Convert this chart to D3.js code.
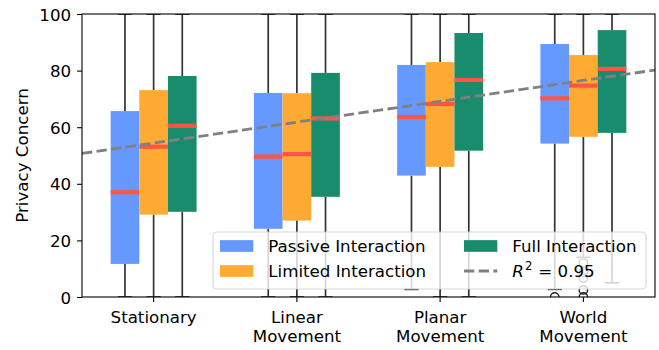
<!DOCTYPE html>
<html>
<head>
<meta charset="utf-8">
<script src="https://cdn.jsdelivr.net/npm/d3@7"></script>
<style>
  html, body { margin: 0; padding: 0; background: #fff; }
  svg { display: block; font-family: "DejaVu Sans", sans-serif; }
</style>
</head>
<body>
<svg id="chart" width="659" height="350"></svg>
<script>
// ---- data ----
const categories = ["Stationary", "Linear\nMovement", "Planar\nMovement", "World\nMovement"];
const seriesNames = ["Passive Interaction", "Limited Interaction", "Full Interaction"];
const yTicks = [0, 20, 40, 60, 80, 100];

const passiveQ1  = [11.7, 24.1, 42.9, 54.2];
const passiveMed = [37.0, 49.6, 63.6, 70.2];
const passiveQ3  = [65.7, 72.1, 82.0, 89.4];
const passiveLo  = [0, 0, 2.7, 2.7];
const passiveHi  = [100, 100, 100, 100];
const passiveOut = [[], [], [], [0]];

const limitedQ1  = [29.1, 27.0, 46.0, 56.6];
const limitedMed = [53.1, 50.5, 68.2, 74.7];
const limitedQ3  = [73.1, 72.0, 83.0, 85.5];
const limitedLo  = [0, 0, 0, 14];
const limitedHi  = [100, 100, 100, 100];
const limitedOut = [[], [], [], [12, 8.8, 6.7, 2.5, 0]];

const fullQ1  = [30.1, 35.4, 51.7, 58.0];
const fullMed = [60.5, 63.1, 76.7, 80.6];
const fullQ3  = [78.1, 79.2, 93.3, 94.3];
const fullLo  = [0, 0, 0, 5];
const fullHi  = [100, 100, 100, 100];
const fullOut = [[], [], [], []];

const trendIntercept = 54.4;   // value at first category
const trendSlope = 7.37;       // per category step
const r2Value = 0.95;

// ---- styles ----
const colors = ["#6699ff", "#ffaa33", "#1a8c6e"];
const medianColor = "#ff5545";
const whiskerColor = "#333333";

const series = [
  {name: seriesNames[0], q1: passiveQ1, med: passiveMed, q3: passiveQ3, lo: passiveLo, hi: passiveHi, out: passiveOut},
  {name: seriesNames[1], q1: limitedQ1, med: limitedMed, q3: limitedQ3, lo: limitedLo, hi: limitedHi, out: limitedOut},
  {name: seriesNames[2], q1: fullQ1, med: fullMed, q3: fullQ3, lo: fullLo, hi: fullHi, out: fullOut}
];

const svg = d3.select("#chart");
const m = {left: 82, right: 4, top: 14, bottom: 53};
const W = 659, H = 350;
const pw = W - m.left - m.right, ph = H - m.top - m.bottom;

const x = d3.scaleBand().domain(categories).range([m.left, m.left + pw]).padding(0);
const y = d3.scaleLinear().domain([0, 100]).range([m.top + ph, m.top]);
const bw = x.bandwidth();
const boxW = bw * 0.2;
const offsets = [-1, 0, 1];

svg.append("defs").append("clipPath").attr("id", "plotclip")
  .append("rect").attr("x", m.left).attr("y", m.top).attr("width", pw).attr("height", ph);

const plot = svg.append("g").attr("clip-path", "url(#plotclip)");

// whiskers + caps + outliers
series.forEach((s, si) => {
  const g = plot.append("g");
  categories.forEach((c, ci) => {
    const cx = x(c) + bw / 2 + offsets[si] * boxW;
    g.append("line").attr("x1", cx).attr("x2", cx).attr("y1", y(s.q3[ci])).attr("y2", y(s.hi[ci]))
      .attr("stroke", whiskerColor).attr("stroke-width", 1.7);
    g.append("line").attr("x1", cx).attr("x2", cx).attr("y1", y(s.q1[ci])).attr("y2", y(s.lo[ci]))
      .attr("stroke", whiskerColor).attr("stroke-width", 1.7);
    [s.hi[ci], s.lo[ci]].forEach(v => {
      g.append("line").attr("x1", cx - boxW / 4).attr("x2", cx + boxW / 4).attr("y1", y(v)).attr("y2", y(v))
        .attr("stroke", whiskerColor).attr("stroke-width", 1.7);
    });
    s.out[ci].forEach(v => {
      g.append("circle").attr("cx", cx).attr("cy", y(v)).attr("r", 4.2)
        .attr("fill", "none").attr("stroke", "#222").attr("stroke-width", 1.4);
    });
  });
});

// boxes
series.forEach((s, si) => {
  const g = plot.append("g");
  categories.forEach((c, ci) => {
    const cx = x(c) + bw / 2 + offsets[si] * boxW;
    g.append("rect").attr("x", cx - boxW / 2).attr("width", boxW)
      .attr("y", y(s.q3[ci])).attr("height", y(s.q1[ci]) - y(s.q3[ci]))
      .attr("fill", colors[si]);
  });
});
// medians
series.forEach((s, si) => {
  const g = plot.append("g");
  categories.forEach((c, ci) => {
    const cx = x(c) + bw / 2 + offsets[si] * boxW;
    g.append("line").attr("x1", cx - boxW / 2).attr("x2", cx + boxW / 2)
      .attr("y1", y(s.med[ci])).attr("y2", y(s.med[ci]))
      .attr("stroke", medianColor).attr("stroke-width", 4.2);
  });
});

// trend line (regression over category index)
const xi = d3.scaleLinear().domain([-0.5, categories.length - 0.5]).range([m.left, m.left + pw]);
const tx = [-0.5, categories.length - 0.5];
plot.append("path")
  .attr("d", d3.line().x(d => xi(d)).y(d => y(trendIntercept + trendSlope * d))(tx))
  .attr("fill", "none").attr("stroke", "#808080").attr("stroke-width", 2.8)
  .attr("stroke-dasharray", "10.3,4.4");

// axes
const yAxis = d3.axisLeft(y).tickValues(yTicks).tickSize(4.9).tickPadding(6);
const gy = svg.append("g").attr("transform", `translate(${m.left},0)`).call(yAxis);
gy.select(".domain").remove();
gy.selectAll(".tick line").attr("stroke", "#000").attr("stroke-width", 1.1);
gy.selectAll(".tick text").attr("font-size", "16.67px").attr("fill", "#000")
  .attr("font-family", "DejaVu Sans").attr("dy", null).attr("y", 6);

const xAxis = d3.axisBottom(x).tickSize(4.9).tickPadding(5).tickFormat("");
const gx = svg.append("g").attr("transform", `translate(0,${m.top + ph})`).call(xAxis);
gx.select(".domain").remove();
gx.selectAll(".tick line").attr("stroke", "#000").attr("stroke-width", 1.1);
gx.selectAll(".tick").each(function(d) {
  const lines = d.split("\n");
  const t = d3.select(this).append("text").attr("fill", "#000").attr("font-size", "16.67px")
    .attr("font-family", "DejaVu Sans").attr("text-anchor", "middle");
  lines.forEach((ln, i) => {
    t.append("tspan").attr("x", 0).attr("y", 26 + i * 18.6).text(ln);
  });
});

// spines
svg.append("rect").attr("x", m.left).attr("y", m.top).attr("width", pw).attr("height", ph)
  .attr("fill", "none").attr("stroke", "#000").attr("stroke-width", 1.1);

// y label
svg.append("text").attr("transform", `translate(28,${m.top + ph / 2}) rotate(-90)`)
  .attr("text-anchor", "middle").attr("font-size", "16.67px").attr("fill", "#000")
  .text("Privacy Concern");

// legend
const leg = svg.append("g");
leg.append("rect").attr("x", 213).attr("y", 232).attr("width", 433).attr("height", 57)
  .attr("rx", 4).attr("fill", "#fff").attr("fill-opacity", 0.8)
  .attr("stroke", "#cccccc").attr("stroke-width", 1.1).attr("stroke-opacity", 0.8);
const legItems = [
  {type: "patch", color: colors[0], label: seriesNames[0], col: 0, row: 0},
  {type: "patch", color: colors[1], label: seriesNames[1], col: 0, row: 1},
  {type: "patch", color: colors[2], label: seriesNames[2], col: 1, row: 0},
  {type: "line", label: null, col: 1, row: 1}
];
const colX = [220, 464], rowY = [246, 271];
legItems.forEach(it => {
  const lx = colX[it.col], ly = rowY[it.row];
  if (it.type === "patch") {
    leg.append("rect").attr("x", lx).attr("y", ly - 5.85).attr("width", 33.3).attr("height", 11.7)
      .attr("fill", it.color);
    leg.append("text").attr("x", lx + 48.3).attr("y", ly + 6).attr("font-size", "16.67px")
      .attr("fill", "#000").text(it.label);
  } else {
    leg.append("line").attr("x1", lx).attr("x2", lx + 33.3).attr("y1", ly).attr("y2", ly)
      .attr("stroke", "#808080").attr("stroke-width", 2.8).attr("stroke-dasharray", "10.3,4.4");
    const t = leg.append("text").attr("x", lx + 48.3).attr("y", ly + 6).attr("font-size", "16.67px").attr("fill", "#000");
    t.append("tspan").attr("font-style", "italic").text("R");
    t.append("tspan").attr("font-size", "11.7px").attr("dx", 1).attr("dy", -7).text("2");
    t.append("tspan").attr("dy", 7).attr("dx", 6).text("= " + r2Value.toFixed(2));
  }
});
</script>
</body>
</html>
